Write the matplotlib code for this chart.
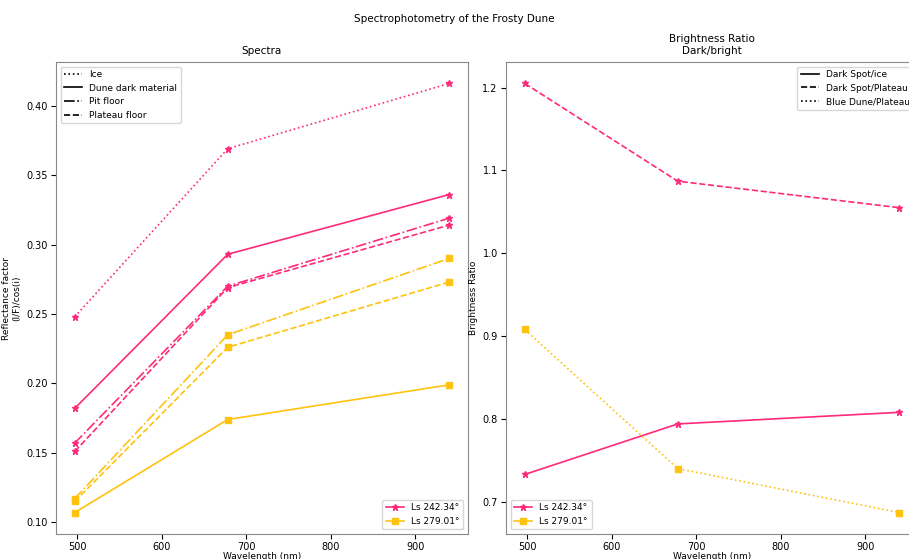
import matplotlib.pyplot as plt
from matplotlib.lines import Line2D

plt.rcParams['font.size'] = 7
plt.rcParams['xtick.major.pad'] = 2
plt.rcParams['ytick.major.pad'] = 2.5

wavelength = [497, 678, 940]

# Ls 242.34 reflectance spectra
ice_242 = [0.248, 0.369, 0.416]
dune_242 = [0.182, 0.293, 0.336]
pit_242 = [0.157, 0.270, 0.319]
plateau_242 = [0.151, 0.269, 0.314]

# Ls 279.01 reflectance spectra
dune_279 = [0.107, 0.174, 0.199]
pit_279 = [0.117, 0.235, 0.290]
plateau_279 = [0.115, 0.226, 0.273]

# brightness ratios
dark_ice_242 = [0.733, 0.794, 0.808]
dark_plateau_242 = [1.205, 1.087, 1.055]
blue_plateau_279 = [0.908, 0.740, 0.687]

pink = '#ff2a7a'
yellow = '#ffc20e'

fig = plt.figure(figsize=(9.09, 5.59), dpi=100)
fig.suptitle('Spectrophotometry of the Frosty Dune', y=0.975, fontsize=7.5)

ax1 = fig.add_axes([0.0616, 0.0447, 0.4532, 0.8444])
ax2 = fig.add_axes([0.5567, 0.0447, 0.4532, 0.8444])

kw242 = dict(color=pink, marker='*', markersize=4.5, lw=1.2)
kw279 = dict(color=yellow, marker='s', markersize=4, lw=1.2)

ax1.plot(wavelength, ice_242, ':', **kw242)
ax1.plot(wavelength, dune_242, '-', **kw242)
ax1.plot(wavelength, pit_242, '-.', **kw242)
ax1.plot(wavelength, plateau_242, '--', **kw242)
ax1.plot(wavelength, dune_279, '-', **kw279)
ax1.plot(wavelength, pit_279, '-.', **kw279)
ax1.plot(wavelength, plateau_279, '--', **kw279)

ax1.set_title('Spectra', fontsize=7.5)
ax1.set_xlabel('Wavelength (nm)', labelpad=0, fontsize=6.5)
ax1.set_ylabel('Reflectance factor\n(I/F)/cos(i)', fontsize=6.5)
ax1.yaxis.set_label_coords(-0.085, 0.5)

style_handles = [Line2D([], [], color='k', ls=':', lw=1.2),
                 Line2D([], [], color='k', ls='-', lw=1.2),
                 Line2D([], [], color='k', ls='-.', lw=1.2),
                 Line2D([], [], color='k', ls='--', lw=1.2)]
leg = ax1.legend(style_handles, ['Ice', 'Dune dark material', 'Pit floor', 'Plateau floor'],
                 loc='upper left', fontsize=6.5)
ax1.add_artist(leg)
ls_handles = [Line2D([], [], **kw242), Line2D([], [], **kw279)]
ax1.legend(ls_handles, ['Ls 242.34°', 'Ls 279.01°'], loc='lower right', fontsize=6.5)

ax2.plot(wavelength, dark_ice_242, '-', **kw242)
ax2.plot(wavelength, dark_plateau_242, '--', **kw242)
ax2.plot(wavelength, blue_plateau_279, ':', **kw279)

ax2.set_title('Brightness Ratio\nDark/bright', fontsize=7.5)
ax2.set_xlabel('Wavelength (nm)', labelpad=0, fontsize=6.5)
ax2.set_ylabel('Brightness Ratio', fontsize=6.5)
ax2.yaxis.set_label_coords(-0.068, 0.5)

ratio_handles = [Line2D([], [], color='k', ls='-', lw=1.2),
                 Line2D([], [], color='k', ls='--', lw=1.2),
                 Line2D([], [], color='k', ls=':', lw=1.2)]
leg2 = ax2.legend(ratio_handles, ['Dark Spot/ice', 'Dark Spot/Plateau', 'Blue Dune/Plateau'],
                  loc='upper right', fontsize=6.5)
ax2.add_artist(leg2)
ax2.legend(ls_handles, ['Ls 242.34°', 'Ls 279.01°'], loc='lower left', fontsize=6.5)

for ax in (ax1, ax2):
    for s in ax.spines.values():
        s.set_color('#888888')

fig.savefig('out.png', dpi=100)
